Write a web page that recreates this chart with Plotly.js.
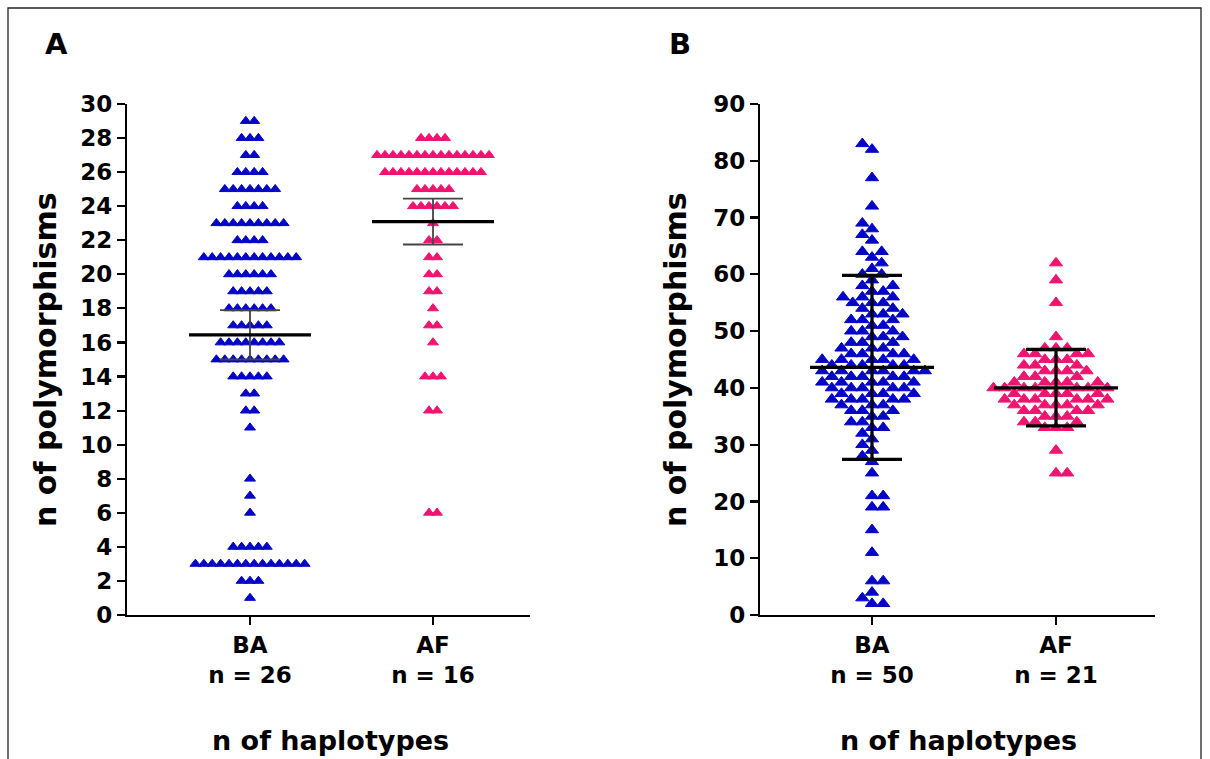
<!DOCTYPE html>
<html><head><meta charset="utf-8">
<script src="https://cdn.plot.ly/plotly-3.0.1.min.js"></script>
<style>html,body{margin:0;padding:0;background:#fff}</style>
</head><body>
<div id="chart" style="width:1210px;height:759px"></div>
<script>
// ---------- data ----------
const groups = ['BA', 'AF'];
const nLabelsA = ['n = 26', 'n = 16'];
const nLabelsB = ['n = 50', 'n = 21'];
const yTicksA = [0,2,4,6,8,10,12,14,16,18,20,22,24,26,28,30];
const yTicksB = [0,10,20,30,40,50,60,70,80,90];

// Panel A: value levels and number of triangles at each level
const aBaLevels = [29,28,27,26,25,24,23,22,21,20,19,18,17,16,15,14,13,12,11,8,7,6,4,3,2,1];
const aBaCounts = [2,3,2,4,7,4,9,4,12,6,5,6,5,8,9,5,2,2,1,1,1,1,5,14,3,1];
const aAfLevels = [28,27,26,25,24,23,22,21,20,19,18,17,16,14,12,6];
const aAfCounts = [4,15,13,5,6,1,2,2,2,2,1,2,1,3,2,2];

// Panel B
const bBaLevels = [83,82,77,72,69,68,67,66,64,63,62,61,60,59,58,57,56,55,54,53,52,51,50,49,48,47,46,45,44,43,42,41,40,39,38,37,36,35,34,33,32,31,30,29,28,27,25,21,19,15,11,6,4,3,2];
const bBaCounts = [1,1,1,1,1,1,1,1,2,1,1,1,2,1,2,2,3,3,2,3,3,2,3,3,3,3,4,5,5,6,5,5,5,4,5,3,3,2,2,2,1,1,1,1,1,1,1,2,2,1,1,2,1,1,2];
const bAfLevels = [62,59,55,49,47,46,45,44,43,42,41,40,39,38,37,36,35,34,33,29,25];
const bAfCounts = [1,1,1,1,3,4,3,3,4,3,5,7,5,6,5,4,3,3,3,1,2];

// summary lines (A: mean with 95% CI, B: mean with SD)
const aMean  = [16.45, 23.1];
const aUpper = [17.9, 24.45];
const aLower = [15.0, 21.75];
const bMean  = [43.6, 40.0];
const bUpper = [59.8, 46.8];
const bLower = [27.4, 33.3];

// ---------- layout geometry ----------
const W = 1210, H = 759;
const plotTop = 104, plotBottom = 615;
const axA = {x0:127, x1:530, c0:250, c1:433};
const axB = {x0:760, x1:1155, c0:872, c1:1056};
function xRange(ax){ const u = ax.c1-ax.c0; return [(ax.x0-ax.c0)/u, (ax.x1-ax.c0)/u]; }
const pxPerXA = axA.c1-axA.c0, pxPerXB = axB.c1-axB.c0;
const pxPerYA = (plotBottom-plotTop)/30, pxPerYB = (plotBottom-plotTop)/90;

const BLUE = '#0505C8', PINK = '#F01470';
const FONT = 'DejaVu Sans, Liberation Sans, Arial, sans-serif';

function expand(levels, counts){ const v=[]; levels.forEach((l,i)=>{ for(let k=0;k<counts[i];k++) v.push(l); }); return v; }

// row layout (panel A)
function rowPoints(levels, counts, gi, spacingPx){
  const xs=[], ys=[];
  levels.forEach((l,i)=>{ const k=counts[i]; for(let j=0;j<k;j++){ xs.push(gi + (j-(k-1)/2)*spacingPx/pxPerXA); ys.push(l);} });
  return {xs, ys};
}
// beeswarm layout (panel B)
function swarmPoints(levels, counts, gi, d){
  const vals = expand(levels, counts);
  const order = vals.map((v,i)=>i).sort((a,b)=>vals[a]-vals[b]);
  const placed=[]; const off=new Array(vals.length); let flip=1;
  for(const i of order){
    const y = vals[i]*pxPerYB;
    const ivs = placed.filter(p=>Math.abs(p.y-y)<d).map(p=>{const h=Math.sqrt(d*d-(p.y-y)*(p.y-y)); return [p.x-h,p.x+h];});
    let c=[0]; ivs.forEach(([a,b])=>c.push(a,b));
    c = c.filter(x=>ivs.every(([a,b])=> x<=a+1e-6 || x>=b-1e-6));
    c.sort((a,b)=>(Math.abs(a)-Math.abs(b)) || flip*(a-b));
    const x=c[0]; flip=-flip; placed.push({x,y}); off[i]=x;
  }
  return {xs: off.map(o=>gi+o/pxPerXB), ys: vals};
}

function markerTrace(pts, color, size, xa, ya){
  return {type:'scatter', mode:'markers', x:pts.xs, y:pts.ys, xaxis:xa, yaxis:ya, cliponaxis:false,
    marker:{symbol:'triangle-up', size:size, color:color, line:{color:color, width:1}}, hoverinfo:'skip'};
}
function statTraces(mean, up, lo, pxPerX, meanHalfPx, capHalfPx, xa, ya, wColor, wWidth){
  const mx=[], my=[], wx=[], wy=[];
  mean.forEach((m,gi)=>{
    const mh = meanHalfPx/pxPerX, ch = capHalfPx/pxPerX;
    mx.push(gi-mh, gi+mh, null); my.push(m, m, null);
    wx.push(gi, gi, null, gi-ch, gi+ch, null, gi-ch, gi+ch, null);
    wy.push(lo[gi], up[gi], null, up[gi], up[gi], null, lo[gi], lo[gi], null);
  });
  return [
    {type:'scatter', mode:'lines', x:wx, y:wy, xaxis:xa, yaxis:ya, line:{color:wColor, width:wWidth}, hoverinfo:'skip', cliponaxis:false},
    {type:'scatter', mode:'lines', x:mx, y:my, xaxis:xa, yaxis:ya, line:{color:'#000', width:3.2}, hoverinfo:'skip', cliponaxis:false}
  ];
}

const traces = [
  markerTrace(rowPoints(aBaLevels, aBaCounts, 0, 8.4), BLUE, 9.5, 'x', 'y'),
  markerTrace(rowPoints(aAfLevels, aAfCounts, 1, 8.0), PINK, 9.5, 'x', 'y'),
  markerTrace(swarmPoints(bBaLevels, bBaCounts, 0, 11.2), BLUE, 11.5, 'x2', 'y2'),
  markerTrace(swarmPoints(bAfLevels, bAfCounts, 1, 11.2), PINK, 11.5, 'x2', 'y2'),
  ...statTraces(aMean, aUpper, aLower, pxPerXA, 61, 30, 'x', 'y', '#444', 1.8),
  ...statTraces(bMean, bUpper, bLower, pxPerXB, 62, 30, 'x2', 'y2', '#000', 3.2)
];

const yDomain = [(H-plotBottom)/H, (H-plotTop)/H];
const tickFont = {family:FONT, size:23, color:'#000', weight:'bold'};
function xAxis(ax, nLabels){
  return {domain:[ax.x0/W, ax.x1/W], range:xRange(ax), showgrid:false, zeroline:false,
    showline:true, linecolor:'#000', linewidth:2.2, ticks:'outside', ticklen:8, tickwidth:2.2, tickcolor:'#000',
    tickmode:'array', tickvals:[0,1], ticktext:groups.map((g,i)=>g+'<br>'+nLabels[i]), tickfont:tickFont, fixedrange:true};
}
function yAxis(ticks, anchor){
  return {domain:yDomain, range:[0, ticks[ticks.length-1]], showgrid:false, zeroline:false, anchor:anchor,
    showline:true, linecolor:'#000', linewidth:2.2, ticks:'outside', ticklen:8, tickwidth:2.2, tickcolor:'#000',
    tickmode:'array', tickvals:ticks, tickfont:tickFont, fixedrange:true};
}
const titleFont = {family:FONT, size:27, color:'#000', weight:'bold'};
const yTitleFont = {family:FONT, size:30, color:'#000', weight:'bold'};
function ann(text, xpx, ypx, font, angle){
  return {text:text, xref:'paper', yref:'paper', x:xpx/W, y:1-ypx/H, xanchor:'center', yanchor:'middle',
    textangle:angle||0, showarrow:false, font:font};
}
const letterFont = {family:FONT,size:29,color:'#000',weight:'bold'};
const layout = {
  width:W, height:H, margin:{l:0,r:0,t:0,b:0}, paper_bgcolor:'#fff', plot_bgcolor:'rgba(0,0,0,0)', showlegend:false,
  xaxis: Object.assign(xAxis(axA, nLabelsA), {anchor:'y'}),
  yaxis: yAxis(yTicksA, 'x'),
  xaxis2: Object.assign(xAxis(axB, nLabelsB), {anchor:'y2'}),
  yaxis2: yAxis(yTicksB, 'x2'),
  annotations:[
    ann('A', 56, 44, letterFont),
    ann('B', 680, 44, letterFont),
    ann('n of polymorphisms', 46, 360, yTitleFont, -90),
    ann('n of polymorphisms', 676, 360, yTitleFont, -90),
    ann('n of haplotypes', 330, 740, titleFont),
    ann('n of haplotypes', 958, 740, titleFont)
  ],
  shapes:[
    {type:'rect', xref:'paper', yref:'paper', x0:8/W, x1:1201/W, y0:-0.02, y1:1-8/H, line:{color:'#222', width:1.3}}
  ]
};
Plotly.newPlot('chart', traces, layout, {staticPlot:true, displayModeBar:false});
</script>
</body></html>
